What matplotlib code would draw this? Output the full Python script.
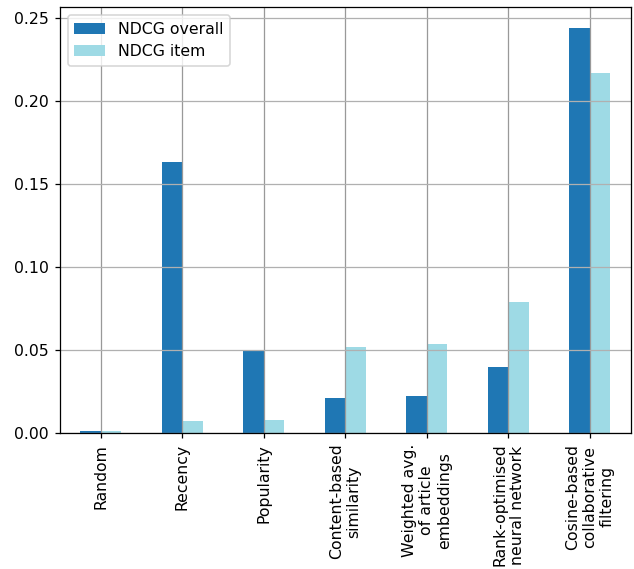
import matplotlib
matplotlib.use('Agg')
import matplotlib.pyplot as plt
import numpy as np

methods = ['Random', 'Recency', 'Popularity', 'Content-based\nsimilarity',
           'Weighted avg.\nof article\nembeddings', 'Rank-optimised\nneural network',
           'Cosine-based\ncollaborative\nfiltering']
ndcg_overall = [0.0012, 0.163, 0.0492, 0.0209, 0.0221, 0.0396, 0.2443]
ndcg_item = [0.0008, 0.0072, 0.0078, 0.0516, 0.0535, 0.0787, 0.2171]

DPI = 113
fig = plt.figure(figsize=(634 / DPI, 569 / DPI), dpi=DPI)
ax = fig.add_axes([0.0946, 0.2395, 0.9, 0.7475])

x = np.arange(len(methods))
w = 0.25
ax.bar(x - w / 2, ndcg_overall, w, color='#1f77b4', label='NDCG overall')
ax.bar(x + w / 2, ndcg_item, w, color='#9edae5', label='NDCG item')

ax.set_xticks(x)
ax.set_xticklabels(methods, rotation=90)
ax.set_xlim(-0.5, len(methods) - 0.5)
ax.set_ylim(0, 0.2565)
ax.set_yticks([0, 0.05, 0.10, 0.15, 0.20, 0.25])
ax.set_yticklabels(['0.00', '0.05', '0.10', '0.15', '0.20', '0.25'])
ax.grid(True, color='#b0b0b0')
for b in ax.patches:
    b.set_zorder(1)
# vertical grid lines look a bit darker in the original
for gl in ax.get_xgridlines():
    gl.set_color('#999999')
    gl.set_zorder(2)
for gl in ax.get_ygridlines():
    gl.set_zorder(2)
ax.legend(loc='upper left')

fig.savefig('out.png', dpi=DPI)
